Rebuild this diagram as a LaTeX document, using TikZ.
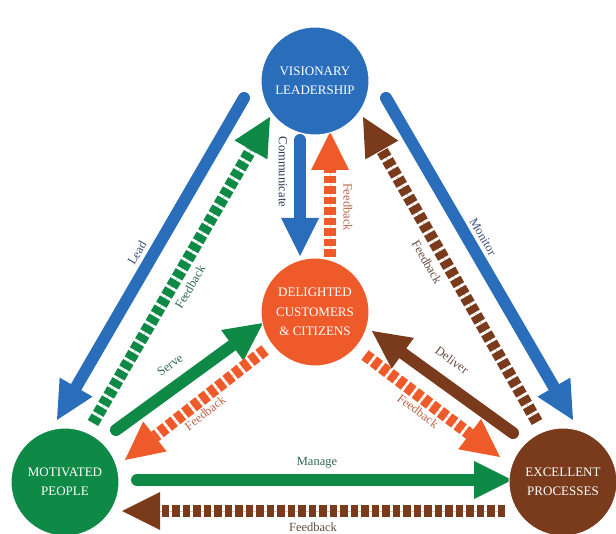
\documentclass[tikz,border=0pt]{standalone}
\usepackage{fontspec}
\setmainfont{Liberation Serif}
\usetikzlibrary{arrows.meta}
\definecolor{cblue}{HTML}{2A6EBB}
\definecolor{cgreen}{HTML}{0E8A46}
\definecolor{corange}{HTML}{EE5A2A}
\definecolor{cbrown}{HTML}{7A3A1C}
\definecolor{lgreen}{HTML}{A4EAC4}
\definecolor{lorange}{HTML}{FFD6B8}
\definecolor{lbrown}{HTML}{F2DCCB}
\definecolor{tblue}{HTML}{3C4E78}
\definecolor{tgreen}{HTML}{2E6B4E}
\definecolor{torange}{HTML}{B8664A}
\definecolor{tbrown}{HTML}{6A4A3E}
\tikzset{
  circ/.style={circle, fill=#1, minimum size=108pt, inner sep=0pt, text=white,
    font=\fontsize{13}{19.5}\selectfont, align=center, draw=white, line width=1pt},
  tip/.style={-{Triangle[length=38pt,width=38pt,line width=0pt]}},
  solidarrow/.style={draw=#1, line width=12pt, line cap=round, tip},
  fbarrow/.style 2 args={draw=#1, fill=#1, line width=12pt, dash pattern=on 7.5pt off 3pt, tip,
    preaction={draw=#2, solid, -, shorten >=30pt}},
  lbl/.style={text=#1, font=\fontsize{12.5}{14}\selectfont, inner sep=1pt}
}
\begin{document}
\begin{tikzpicture}[x=1pt,y=-1pt]
\useasboundingbox (0,0) rectangle (616,534);
\fill[white] (0,0) rectangle (616,534);

% coordinates of arrow ends
\coordinate (leadS) at (244,98);
\coordinate (leadE) at (57,420);
\coordinate (fbLS) at (93,423);
\coordinate (fbLE) at (270,117);
\coordinate (monS) at (386,98);
\coordinate (monE) at (573,420);
\coordinate (fbRS) at (537,422);
\coordinate (fbRE) at (363,117);
\coordinate (comS) at (300,140);
\coordinate (comE) at (300,256);
\coordinate (fbCS) at (330,257);
\coordinate (fbCE) at (330,132);
\coordinate (serS) at (116,430);
\coordinate (serE) at (263,323);
\coordinate (fbSS) at (265,350);
\coordinate (fbSE) at (125,460);
\coordinate (delS) at (513,433);
\coordinate (delE) at (372,331);
\coordinate (fbDS) at (365,355);
\coordinate (fbDE) at (500,457);
\coordinate (manS) at (137,480);
\coordinate (manE) at (512,480);
\coordinate (fbMS) at (505,511);
\coordinate (fbME) at (122,511);

% arrows
\draw[solidarrow=cblue] (leadS) -- (leadE);
\draw[fbarrow={cgreen}{lgreen}] (fbLS) -- (fbLE);
\draw[solidarrow=cblue] (monS) -- (monE);
\draw[fbarrow={cbrown}{lbrown}] (fbRS) -- (fbRE);
\draw[solidarrow=cblue] (comS) -- (comE);
\draw[fbarrow={corange}{lorange}] (fbCS) -- (fbCE);
\draw[solidarrow=cgreen] (serS) -- (serE);
\draw[fbarrow={corange}{lorange}] (fbSS) -- (fbSE);
\draw[solidarrow=cbrown] (delS) -- (delE);
\draw[fbarrow={corange}{lorange}] (fbDS) -- (fbDE);
\draw[solidarrow=cgreen] (manS) -- (manE);
\draw[fbarrow={cbrown}{lbrown}] (fbMS) -- (fbME);

% circles
\node[circ=cblue] (VL) at (315,81) {VISIONARY\\LEADERSHIP};
\node[circ=corange] (DC) at (315,312) {DELIGHTED\\CUSTOMERS\\\& CITIZENS};
\node[circ=cgreen] (MP) at (65,482) {MOTIVATED\\PEOPLE};
\node[circ=cbrown] (EP) at (563,482) {EXCELLENT\\PROCESSES};

% labels
\node[lbl=tblue, rotate=60] (lLead) at (137,253) {Lead};
\node[lbl=tgreen, rotate=60] (lFbL) at (190,287) {Feedback};
\node[lbl=tblue, rotate=-60] (lMon) at (483,237) {Monitor};
\node[lbl=tbrown, rotate=-60] (lFbR) at (427,262) {Feedback};
\node[lbl=tblue!70!black, rotate=-90] (lCom) at (283,172) {Communicate};
\node[lbl=torange, rotate=-90] (lFbC) at (348,207) {Feedback};
\node[lbl=tgreen, rotate=36] (lSer) at (170,365) {Serve};
\node[lbl=torange, rotate=38] (lFbS) at (205,413) {Feedback};
\node[lbl=tbrown, rotate=-36] (lDel) at (452,360) {Deliver};
\node[lbl=torange, rotate=-37] (lFbD) at (418,411) {Feedback};
\node[lbl=tgreen] (lMan) at (317,463) {Manage};
\node[lbl=tbrown] (lFbM) at (313,527) {Feedback};
\end{tikzpicture}
\end{document}
